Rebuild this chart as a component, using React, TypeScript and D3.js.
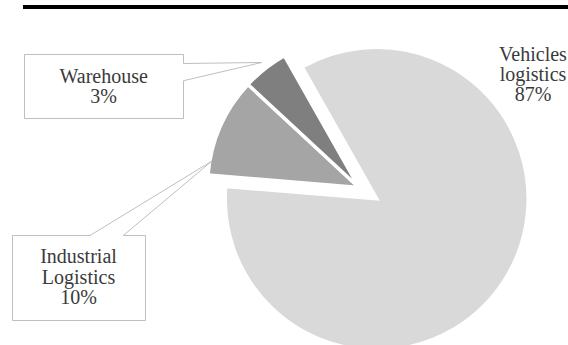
import React from 'react';
import * as d3 from 'd3';

// Data
const categories = ['Vehicles logistics', 'Industrial Logistics', 'Warehouse'];
const shares = [84.5, 10.6, 4.9]; // slice sizes as drawn
const labelLines = [
  ['Vehicles', 'logistics', '87%'],
  ['Industrial', 'Logistics', '10%'],
  ['Warehouse', '3%'],
];
const colors = ['#d9d9d9', '#a5a5a5', '#7f7f7f'];
const explode = [21, 0, 0];

const W = 568;
const H = 345;
const CX = 359;
const CY = 187.5;
const R = 151.5;
const START = (-29.5 * Math.PI) / 180;

export default function App() {
  const pie = d3
    .pie<number>()
    .sort(null)
    .value((d) => d)
    .startAngle(START)
    .endAngle(START + 2 * Math.PI);
  const arcs = pie(shares);
  const arc = d3.arc<d3.PieArcDatum<number>>().innerRadius(0).outerRadius(R);

  const font = "'Liberation Serif', 'Times New Roman', serif";
  const textColor = '#3a3a3a';
  const lineH = 20.3;

  // label anchors (layout)
  const labelPos = [
    { x: 533, y: 60.8 },
    { x: 78.5, y: 263.3 },
    { x: 103.7, y: 82.7 },
  ];

  const calloutWarehouse = 'M24.5,54.5 H183.5 V63.5 L261.7,62.5 L183.5,80.7 V118.5 H24.5 Z';
  const calloutIndustrial = 'M12.5,235.5 H90 L212,161 L123.3,235.5 H145.5 V320.5 H12.5 Z';

  return (
    <svg
      width={W}
      height={H}
      style={{ position: 'absolute', left: 0, top: 0, background: '#fff' }}
    >
      <rect x={23} y={5} width={W - 23} height={4} fill="#000" />

      <g>
        {arcs.map((a, i) => {
          const mid = (a.startAngle + a.endAngle) / 2;
          const dx = explode[i] * Math.sin(mid);
          const dy = -explode[i] * Math.cos(mid);
          return (
            <path
              key={categories[i]}
              d={arc(a) as string}
              transform={`translate(${CX + dx},${CY + dy})`}
              fill={colors[i]}
              stroke="#fff"
              strokeWidth={3.5}
              strokeLinejoin="miter"
            />
          );
        })}
      </g>

      <path d={calloutWarehouse} fill="#fff" stroke="#bfbfbf" strokeWidth={1} />
      <path d={calloutIndustrial} fill="#fff" stroke="#bfbfbf" strokeWidth={1} />

      {labelLines.map((lines, i) => (
        <text
          key={categories[i]}
          fontFamily={font}
          fontSize={20}
          fill={textColor}
          textAnchor="middle"
        >
          {lines.map((l, j) => (
            <tspan key={j} x={labelPos[i].x} y={labelPos[i].y + j * lineH}>
              {l}
            </tspan>
          ))}
        </text>
      ))}
    </svg>
  );
}
